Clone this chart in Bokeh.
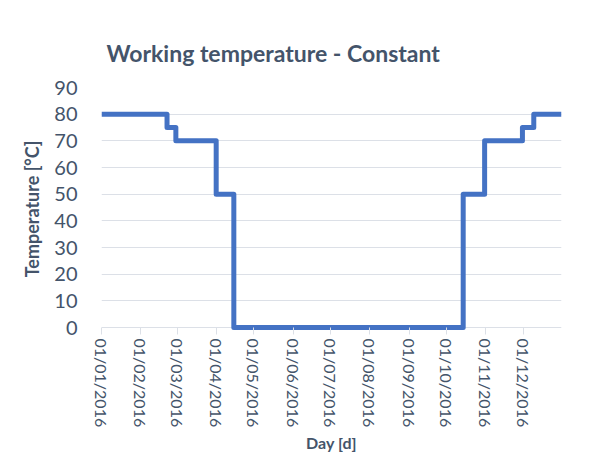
import pandas as pd
from bokeh.plotting import figure
from bokeh.models import Range1d, FixedTicker, DatetimeTickFormatter, Title
from bokeh.embed import file_html
from bokeh.resources import INLINE

# ---- data ----
change_dates = ["2016-01-01", "2016-02-22", "2016-02-29", "2016-04-01", "2016-04-15",
                "2016-10-14", "2016-10-31", "2016-11-30", "2016-12-09", "2016-12-31"]
temperature = [80, 75, 70, 50, 0, 50, 70, 75, 80, 80]

tick_dates = ["2016-01-01", "2016-02-01", "2016-03-01", "2016-04-01", "2016-05-01", "2016-06-01",
              "2016-07-01", "2016-08-01", "2016-09-01", "2016-10-01", "2016-11-01", "2016-12-01"]
y_ticks = [0, 10, 20, 30, 40, 50, 60, 70, 80, 90]

title_text = "Working temperature - Constant"
x_title = "Day [d]"
y_title = "Temperature [°C]"

TEXT = "#44546A"
GRID = "#DCE0E7"
FONT = "Lato"

x = pd.to_datetime(change_dates)
tick_ms = [pd.Timestamp(d).value // 10**6 for d in tick_dates]

p = figure(width=598, height=452, x_axis_type="datetime",
           output_backend="svg", toolbar_location=None,
           x_range=Range1d(pd.Timestamp("2016-01-01"), pd.Timestamp("2016-12-31")),
           y_range=Range1d(-1.125, 90),
           min_border_left=101, min_border_right=37, min_border_top=87, min_border_bottom=122,
           title=title_text)
p.outline_line_color = None
p.background_fill_color = "white"
p.border_fill_color = "white"

p.title.text_font = FONT
p.title.text_font_size = "23px"
p.title.text_font_style = "bold"
p.title.text_color = TEXT
p.title.align = "left"
p.title.offset = 5
p.title.standoff = 41

p.step(x=x, y=temperature, mode="after", line_width=5, line_color="#4472C4", line_join="round")

# grids
p.xgrid.visible = False
p.ygrid.ticker = FixedTicker(ticks=y_ticks)
p.ygrid.grid_line_color = GRID
p.ygrid.grid_line_width = 1

# y axis
p.yaxis.ticker = FixedTicker(ticks=y_ticks)
p.yaxis.axis_line_color = None
p.yaxis.major_tick_line_color = None
p.yaxis.minor_tick_line_color = None
p.yaxis.major_tick_out = 0
p.yaxis.major_tick_in = 0
p.yaxis.major_label_standoff = 24
p.yaxis.major_label_text_font = FONT
p.yaxis.major_label_text_font_size = "20px"
p.yaxis.major_label_text_color = TEXT
p.yaxis.axis_label = y_title
p.yaxis.axis_label_text_font = FONT
p.yaxis.axis_label_text_font_size = "18px"
p.yaxis.axis_label_text_font_style = "bold"
p.yaxis.axis_label_text_color = TEXT
p.yaxis.axis_label_standoff = 8

# x axis
p.xaxis.ticker = FixedTicker(ticks=tick_ms)
fmt = "%d/%m/%Y"
p.xaxis.formatter = DatetimeTickFormatter(milliseconds=fmt, seconds=fmt, minsec=fmt, minutes=fmt,
                                          hourmin=fmt, hours=fmt, days=fmt, months=fmt, years=fmt)
p.xaxis.major_label_orientation = "vertical"
p.xaxis.axis_line_color = None
p.xaxis.minor_tick_line_color = None
p.xaxis.major_tick_line_color = GRID
p.xaxis.major_tick_in = 3
p.xaxis.major_tick_out = 4
p.xaxis.major_label_standoff = 4
p.xaxis.major_label_text_font = FONT
p.xaxis.major_label_text_font_size = "16px"
p.xaxis.major_label_text_color = TEXT

xt = Title(text=x_title, align="center", text_font=FONT, text_font_size="16px",
           text_font_style="bold", text_color=TEXT, standoff=0)
p.add_layout(xt, "below")

open("out.html", "w").write(file_html(p, INLINE))
